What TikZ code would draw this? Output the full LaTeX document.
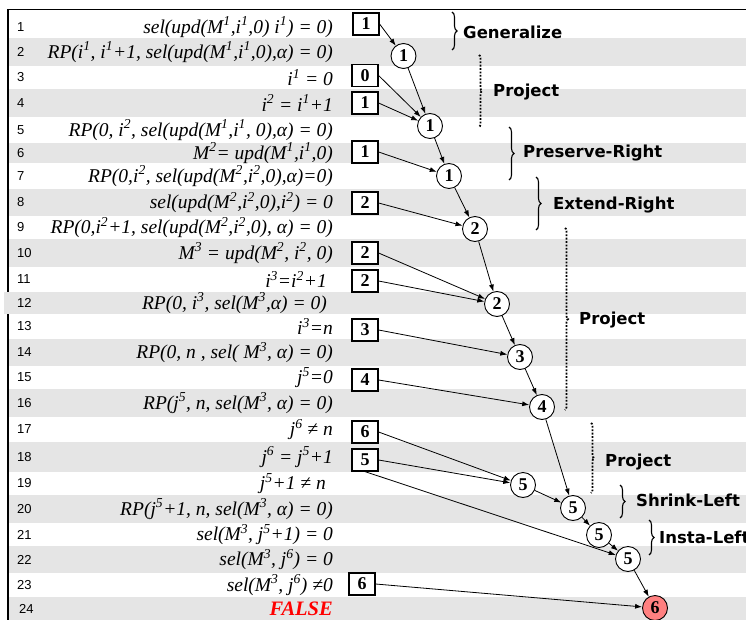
\documentclass[tikz,border=0pt]{standalone}
\usepackage{fontspec}
\setmainfont{Liberation Serif}
\newfontfamily\numfont{Liberation Sans}
\newfontfamily\labfont{DejaVu Sans}
\usetikzlibrary{arrows.meta,decorations.pathreplacing}
\definecolor{stripe}{HTML}{E5E5E5}
\definecolor{redfill}{HTML}{FF8080}
\tikzset{
  lnum/.style={anchor=west,inner sep=0pt,font=\numfont\fontsize{13}{14}\selectfont},
  txt/.style={anchor=east,inner sep=0pt,font=\fontsize{19.5}{21}\selectfont\itshape},
  sbox/.style={draw,line width=1.2pt,minimum width=26pt,minimum height=22pt,inner sep=0pt,fill=white,font=\fontsize{18}{19}\selectfont\bfseries},
  circ/.style={draw,circle,line width=0.9pt,minimum size=25pt,inner sep=0pt,fill=white,font=\fontsize{18}{19}\selectfont\bfseries},
  arr/.style={-{Latex[length=7pt,width=5pt]},line width=0.8pt},
  sbrace/.style={decorate,decoration={brace,amplitude=5pt},line width=1.1pt},
  dbrace/.style={decorate,decoration={brace,amplitude=3pt},line width=1.8pt,dash pattern=on 1.8pt off 1.6pt},
  lab/.style={anchor=west,inner sep=0pt,font=\labfont\fontsize{16.5}{18}\selectfont\bfseries}
}
\newcommand{\sups}[1]{\textsuperscript{#1}}
\begin{document}
\begin{tikzpicture}[x=1pt,y=-1pt]
\useasboundingbox (0,0) rectangle (746,620);
\fill[white] (0,0) rectangle (746,620);
% stripes
\foreach \a/\b in {38/66,89/117,143/163,189/216,239/267,339/366,389/417,442/472,495/523,546/573,597/620}
  \fill[stripe] (9,\a) rectangle (746,\b);
% frame
\draw[line width=1.5pt] (8,9.5) -- (746,9.5);
\draw[line width=1.5pt] (8,9.5) -- (8,620);
\fill[stripe] (4,292) rectangle (746,314);
% line numbers
\foreach \n/\y in {1/27,2/52,3/77.5,4/103,5/130,6/153,7/176,8/202.5,9/227.5,10/253,11/279.5,12/303,13/326.5,14/352.5,15/377.5,16/403,17/429.5,18/457,19/483.5,20/509,21/534.5,22/559.5,23/585}
  \node[lnum] (n\n) at (17,\y) {\n};
\node[lnum] (n24) at (19,608.5) {24};
% texts
\node[txt] (t1) at (333,27) {sel(upd(M\sups{1},i\sups{1},0) i\sups{1}) = 0)};
\node[txt] (t2) at (333,52) {RP(i\sups{1}, i\sups{1}+1, sel(upd(M\sups{1},i\sups{1},0),α) = 0)};
\node[txt] (t3) at (333,77.5) {i\sups{1} = 0};
\node[txt] (t4) at (333,103) {i\sups{2} = i\sups{1}+1};
\node[txt] (t5) at (333,130) {RP(0, i\sups{2}, sel(upd(M\sups{1},i\sups{1}, 0),α) = 0)};
\node[txt] (t6) at (333,153) {M\sups{2}= upd(M\sups{1},i\sups{1},0)};
\node[txt] (t7) at (333,176) {RP(0,i\sups{2}, sel(upd(M\sups{2},i\sups{2},0),α)=0)};
\node[txt] (t8) at (333,202.5) {sel(upd(M\sups{2},i\sups{2},0),i\sups{2}) = 0};
\node[txt] (t9) at (333,227.5) {RP(0,i\sups{2}+1, sel(upd(M\sups{2},i\sups{2},0), α) = 0)};
\node[txt] (t10) at (333,253) {M\sups{3} = upd(M\sups{2}, i\sups{2}, 0)};
\node[txt] (t11) at (327,279.5) {i\sups{3}=i\sups{2}+1};
\node[txt] (t12) at (327,303) {RP(0, i\sups{3}, sel(M\sups{3},α) = 0)};
\node[txt] (t13) at (333,326.5) {i\sups{3}=n};
\node[txt] (t14) at (333,352.5) {RP(0, n , sel( M\sups{3}, α) = 0)};
\node[txt] (t15) at (333,377.5) {j\sups{5}=0};
\node[txt] (t16) at (333,403) {RP(j\sups{5}, n, sel(M\sups{3}, α) = 0)};
\node[txt] (t17) at (333,429.5) {j\sups{6} ≠ n};
\node[txt] (t18) at (333,457) {j\sups{6} = j\sups{5}+1};
\node[txt] (t19) at (326,483.5) {j\sups{5}+1 ≠ n};
\node[txt] (t20) at (333,509) {RP(j\sups{5}+1, n, sel(M\sups{3}, α) = 0)};
\node[txt] (t21) at (333,534.5) {sel(M\sups{3},  j\sups{5}+1) =  0};
\node[txt] (t22) at (333,559.5) {sel(M\sups{3},  j\sups{6}) =  0};
\node[txt] (t23) at (333,585) {sel(M\sups{3}, j\sups{6}) ≠0};
\node[txt,text=red,font=\fontsize{20.5}{22}\selectfont\itshape\bfseries] (t24) at (333,608.5) {FALSE};
% boxes
\node[sbox] (b1) at (366,24) {1};
\node[sbox] (b3) at (365,75.5) {0};
\node[sbox] (b4) at (365,103) {1};
\node[sbox] (b6) at (365,152) {1};
\node[sbox] (b8) at (365,203) {2};
\node[sbox] (b10) at (365,253) {2};
\node[sbox] (b11) at (365,281) {2};
\node[sbox] (b13) at (365,330) {3};
\node[sbox] (b15) at (365,380) {4};
\node[sbox] (b17) at (365,432) {6};
\node[sbox] (b18) at (365,460) {5};
\node[sbox] (b23) at (362,584) {6};
% circles
\node[circ] (c2) at (403.5,56) {1};
\node[circ] (c5) at (430,126) {1};
\node[circ] (c7) at (449,176) {1};
\node[circ] (c9) at (475,229) {2};
\node[circ] (c12) at (497,304) {2};
\node[circ] (c14) at (520,357) {3};
\node[circ] (c16) at (542,407) {4};
\node[circ] (c19) at (523,485) {5};
\node[circ] (c20) at (573,508) {5};
\node[circ] (c21) at (599,535) {5};
\node[circ] (c22) at (628,559) {5};
\node[circ,fill=redfill] (c24) at (655,608) {6};
% arrows
\draw[arr] (b1.east) -- (c2);
\draw[arr] (c2) -- (c5);
\draw[arr] (b3.east) -- (c5);
\draw[arr] (b4.east) -- (c5);
\draw[arr] (c5) -- (c7);
\draw[arr] (b6.east) -- (c7);
\draw[arr] (c7) -- (c9);
\draw[arr] (b8.east) -- (c9);
\draw[arr] (c9) -- (c12);
\draw[arr] (b10.east) -- (c12);
\draw[arr] (b11.east) -- (c12);
\draw[arr] (c12) -- (c14);
\draw[arr] (b13.east) -- (c14);
\draw[arr] (c14) -- (c16);
\draw[arr] (b15.east) -- (c16);
\draw[arr] (b17.east) -- (c19);
\draw[arr] (b18.east) -- (c19);
\draw[arr] (b18.south) -- (c22);
\draw[arr] (c19) -- (c20);
\draw[arr] (c16) -- (c20);
\draw[arr] (c20) -- (c21);
\draw[arr] (c21) -- (c22);
\draw[arr] (c22) -- (c24);
\draw[arr] (b23.east) -- (c24);
% braces and labels
\coordinate (g1) at (452,12); \coordinate (g2) at (452,50);
\draw[sbrace] (g1) -- (g2);
\node[lab] (lg) at (463,32) {Generalize};
\coordinate (p1) at (479,55); \coordinate (p2) at (479,127);
\draw[dbrace] (p1) -- (p2);
\node[lab] (lp1) at (493,92) {Project};
\coordinate (pr1) at (509,127); \coordinate (pr2) at (509,180);
\draw[sbrace] (pr1) -- (pr2);
\node[lab] (lpr) at (523,153) {Preserve-Right};
\coordinate (e1) at (536,177); \coordinate (e2) at (536,230);
\draw[sbrace] (e1) -- (e2);
\node[lab] (le) at (553,205) {Extend-Right};
\coordinate (q1) at (565,228); \coordinate (q2) at (565,410);
\draw[dbrace] (q1) -- (q2);
\node[lab] (lp2) at (579,320) {Project};
\coordinate (r1) at (591,423); \coordinate (r2) at (591,493);
\draw[dbrace] (r1) -- (r2);
\node[lab] (lp3) at (605,462) {Project};
\coordinate (s1) at (620,485); \coordinate (s2) at (620,518);
\draw[sbrace] (s1) -- (s2);
\node[lab] (ls) at (636,500) {Shrink-Left};
\coordinate (i1) at (649,520); \coordinate (i2) at (649,555);
\draw[sbrace] (i1) -- (i2);
\node[lab] (li) at (659,537) {Insta-Left};
\end{tikzpicture}
\end{document}
